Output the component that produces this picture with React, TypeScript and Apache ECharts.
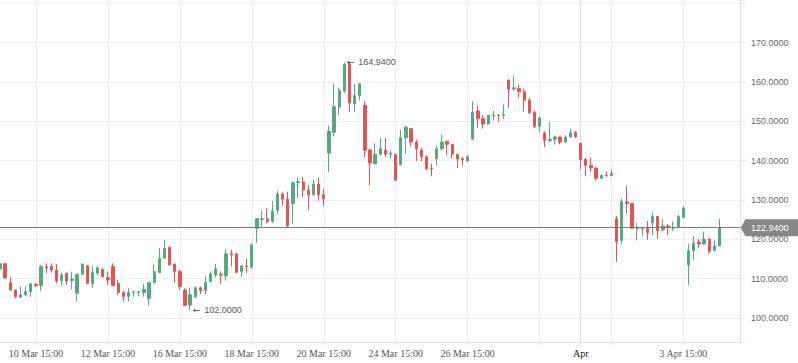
import React, { useEffect, useRef } from 'react';
import * as echarts from 'echarts';

// ---- time slots (hourly bars, 7 per session) ----
const firstBar = '9 Mar 15:00';
const sessionDays = [
  '10 Mar', '11 Mar', '12 Mar', '13 Mar', '16 Mar', '17 Mar', '18 Mar', '19 Mar', '20 Mar',
  '23 Mar', '24 Mar', '25 Mar', '26 Mar', '27 Mar', '30 Mar', '31 Mar',
  '1 Apr', '2 Apr', '3 Apr', '6 Apr',
];
const sessionHours = ['09:00', '10:00', '11:00', '12:00', '13:00', '14:00', '15:00'];
const futureSlots = ['7 Apr 09:00', '7 Apr 10:00', '7 Apr 11:00', '7 Apr 12:00'];

// ---- tick labels / grid lines ----
const labelSlots = [
  '10 Mar 15:00', '12 Mar 15:00', '16 Mar 15:00', '18 Mar 15:00', '20 Mar 15:00',
  '24 Mar 15:00', '26 Mar 15:00', '1 Apr 09:00', '3 Apr 15:00',
];
const monthStarts: Record<string, string> = { '1 Apr 09:00': 'Apr' };
const extraGridSlots = ['30 Mar 15:00', '1 Apr 15:00'];

// ---- OHLC values ----
const opens = [
  112.5, 113.8, 109.0, 107.1, 105.3, 105.9, 106.7, 108.6, 108.2, 113.0,
  113.1, 112.2, 109.5, 111.4, 109.5, 106.3, 111.1, 113.3, 108.8, 111.4,
  112.4, 110.3, 113.1, 108.8, 106.5, 105.5, 106.6, 106.5, 106.5, 105.0,
  109.0, 111.5, 115.2, 118.0, 113.7, 111.8, 107.1, 103.3, 105.4, 107.7,
  107.0, 109.3, 111.0, 111.1, 110.7, 116.3, 116.3, 111.8, 113.2, 112.9,
  122.8, 125.0, 125.2, 124.5, 127.4, 131.5, 130.2, 129.1, 134.4, 134.6,
  132.5, 131.3, 134.0, 131.3, 141.9, 147.2, 153.6, 157.6, 164.4, 154.4,
  156.5, 154.0, 142.7, 139.2, 141.6, 142.7, 141.6, 141.6, 139.0, 145.8,
  148.1, 144.7, 142.6, 141.0, 138.1, 140.5, 143.0, 144.9, 144.1, 141.6,
  140.5, 139.9, 145.5, 152.6, 150.6, 149.3, 151.4, 151.6, 151.5, 160.4,
  158.2, 158.3, 157.5, 155.3, 152.3, 148.7, 147.0, 145.1, 145.4, 146.0,
  144.7, 146.0, 147.2, 144.4, 140.3, 138.8, 138.1, 135.5, 136.2, 136.2,
  125.2, 119.7, 129.5, 129.1, 122.6, 122.6, 122.8, 124.2, 125.8, 122.4,
  123.4, 122.8, 123.1, 125.6, 113.5, 117.1, 119.3, 118.8, 120.1, 117.1,
  118.3,
];
const closes = [
  113.8, 110.2, 107.1, 105.4, 105.9, 106.7, 108.7, 108.2, 113.1, 112.7,
  112.2, 109.4, 111.0, 109.4, 109.9, 111.1, 113.7, 108.8, 111.5, 112.8,
  110.5, 109.7, 108.2, 106.5, 105.5, 106.5, 106.7, 106.7, 107.3, 109.0,
  111.8, 115.2, 117.7, 113.5, 111.8, 108.0, 103.2, 105.9, 107.7, 107.0,
  109.0, 111.2, 112.5, 110.9, 116.3, 116.0, 111.6, 113.2, 113.0, 118.6,
  125.2, 125.2, 124.5, 127.2, 131.5, 130.2, 123.4, 134.4, 134.6, 132.5,
  131.3, 134.0, 131.3, 130.3, 147.5, 153.7, 157.8, 164.4, 154.6, 156.5,
  159.5, 142.6, 139.4, 141.6, 143.0, 141.6, 141.9, 135.0, 145.8, 148.5,
  144.7, 143.0, 141.0, 137.9, 137.9, 143.0, 144.7, 144.1, 141.6, 140.4,
  140.2, 141.0, 152.3, 150.6, 149.3, 151.5, 151.6, 151.4, 151.7, 158.1,
  158.5, 157.5, 155.3, 152.1, 148.7, 150.8, 145.1, 145.4, 146.0, 144.7,
  146.0, 147.0, 146.0, 140.3, 138.8, 138.1, 135.5, 136.2, 136.1, 136.7,
  119.4, 129.6, 129.1, 122.8, 122.8, 122.7, 121.7, 125.8, 122.2, 123.4,
  123.1, 123.1, 125.8, 127.9, 117.1, 119.0, 118.8, 120.0, 116.9, 118.3,
  122.94,
];
const lows = [
  112.0, 110.0, 106.9, 105.0, 105.2, 105.7, 105.4, 108.0, 106.9, 111.4,
  111.5, 108.8, 108.2, 108.4, 107.3, 104.2, 110.9, 108.6, 107.6, 110.9,
  110.3, 108.4, 108.1, 105.9, 104.2, 104.2, 105.4, 105.5, 105.4, 103.1,
  108.8, 111.4, 115.1, 113.4, 109.0, 107.1, 103.1, 102.0, 105.1, 106.1,
  106.1, 109.1, 110.3, 108.7, 109.5, 113.1, 111.5, 110.5, 111.5, 112.6,
  119.2, 123.2, 124.1, 124.2, 126.4, 128.5, 123.0, 123.9, 130.5, 130.8,
  127.4, 131.2, 129.8, 128.5, 137.1, 146.1, 151.5, 157.1, 152.3, 152.3,
  155.3, 140.9, 133.7, 139.0, 141.3, 140.9, 140.5, 134.9, 138.7, 141.7,
  143.6, 139.9, 139.9, 137.6, 136.0, 138.8, 142.6, 141.3, 140.5, 138.1,
  138.8, 139.7, 145.3, 148.3, 148.1, 149.1, 150.2, 149.8, 150.6, 153.4,
  157.6, 155.9, 152.5, 151.9, 148.2, 147.2, 143.4, 144.7, 144.1, 144.1,
  144.4, 145.8, 145.8, 137.8, 136.0, 137.1, 134.9, 135.2, 136.0, 136.0,
  114.3, 118.8, 126.4, 122.6, 119.7, 120.9, 119.8, 121.1, 120.1, 122.1,
  121.1, 122.1, 122.8, 125.3, 108.4, 114.8, 117.7, 118.5, 116.3, 117.1,
  118.3,
];
const highs = [
  114.2, 113.9, 110.4, 107.2, 108.0, 108.0, 108.8, 108.8, 113.5, 113.9,
  113.9, 113.7, 111.5, 111.5, 111.8, 111.2, 113.9, 113.5, 113.1, 113.3,
  112.6, 111.8, 113.9, 109.7, 106.9, 107.6, 106.9, 106.9, 108.7, 109.2,
  113.5, 117.7, 119.8, 118.1, 113.9, 112.4, 107.6, 107.8, 108.0, 108.0,
  110.5, 111.8, 113.7, 111.8, 117.5, 117.3, 116.4, 113.5, 115.0, 118.8,
  125.3, 127.4, 127.9, 129.7, 132.3, 131.9, 132.1, 134.6, 135.7, 135.9,
  133.8, 135.2, 135.7, 132.8, 148.9, 159.5, 158.6, 164.94, 164.8, 159.5,
  159.7, 155.0, 143.0, 144.4, 145.8, 145.8, 142.6, 141.7, 147.8, 148.9,
  148.3, 145.3, 143.3, 141.3, 139.2, 143.8, 146.6, 145.0, 144.3, 141.7,
  140.9, 141.3, 155.0, 154.0, 151.6, 151.6, 152.6, 151.7, 154.2, 160.7,
  161.6, 159.3, 158.3, 155.9, 152.7, 151.2, 147.4, 149.8, 146.4, 146.1,
  146.4, 148.1, 147.5, 144.5, 140.7, 140.7, 138.3, 136.5, 137.2, 137.7,
  125.9, 130.3, 133.6, 129.3, 124.2, 123.2, 124.7, 126.8, 125.9, 125.2,
  123.9, 124.5, 126.2, 128.5, 118.8, 120.9, 120.0, 122.0, 120.3, 119.7,
  125.2,
];

const UP = '#56a880';
const DOWN = '#e05656';

export default function App() {
  const ref = useRef<HTMLDivElement>(null);

  useEffect(() => {
    if (!ref.current) return;
    const chart = echarts.init(ref.current, undefined, { renderer: 'svg' });

    const categories = [
      firstBar,
      ...sessionDays.flatMap((d) => sessionHours.map((h) => `${d} ${h}`)),
      ...futureSlots,
    ];
    const candles = opens.map((o, i) => [o, closes[i], lows[i], highs[i]]);
    const maxIdx = highs.indexOf(Math.max(...highs));
    const minIdx = lows.indexOf(Math.min(...lows));
    const lastClose = closes[closes.length - 1];
    const gridSlots = new Set([...labelSlots.filter((s) => !monthStarts[s]), ...extraGridSlots]);
    const labelSet = new Set(labelSlots);

    const labelFont = 'Liberation Sans, Arial, sans-serif';

    chart.setOption({
      animation: false,
      backgroundColor: '#ffffff',
      grid: { left: 0, right: 58, top: 0, bottom: 21, containLabel: false, outerBoundsMode: 'none' },
      xAxis: [
        {
          type: 'category',
          data: categories,
          boundaryGap: false,
          axisLine: { show: true, lineStyle: { color: '#dcdfe2', width: 1 } },
          axisTick: {
            show: true,
            length: 3,
            interval: (i: number, v: string) => gridSlots.has(v) || !!monthStarts[v],
            lineStyle: { color: '#e3e6e9' },
          },
          axisLabel: {
            show: true,
            interval: (i: number, v: string) => labelSet.has(v),
            formatter: (v: string) => (monthStarts[v] ? `{m|${monthStarts[v]}}` : v),
            color: '#555555',
            fontFamily: 'Liberation Serif, Times New Roman, serif',
            fontSize: 10,
            margin: 6,
            rich: {
              m: { color: '#111111', fontFamily: 'Liberation Serif, Times New Roman, serif', fontSize: 10 },
            },
          },
          splitLine: {
            show: true,
            interval: (i: number, v: string) => gridSlots.has(v),
            lineStyle: { color: '#eceef1', width: 1 },
          },
        },
        {
          type: 'category',
          data: categories,
          boundaryGap: false,
          position: 'bottom',
          axisLine: { show: false },
          axisTick: { show: false },
          axisLabel: { show: false },
          splitLine: {
            show: true,
            interval: (i: number, v: string) => !!monthStarts[v],
            lineStyle: { color: '#d9dcdf', width: 1 },
          },
        },
      ],
      yAxis: {
        type: 'value',
        position: 'right',
        min: 93.91,
        max: 180.8,
        splitNumber: 9,
        minInterval: 10,
        maxInterval: 10,
        scale: true,
        axisLine: { show: true, lineStyle: { color: '#dcdfe2', width: 1 } },
        axisTick: { show: true, length: 5, lineStyle: { color: '#e3e6e9' } },
        axisLabel: {
          margin: 11,
          color: '#666666',
          fontFamily: labelFont,
          fontSize: 9,
          formatter: (v: number) => {
            const r = Math.round(v / 10) * 10;
            return Math.abs(v - r) < 1e-6 && r >= 100 && r <= 170 ? v.toFixed(4) : '';
          },
        },
        splitLine: { show: true, showMaxLine: false, lineStyle: { color: '#eceef1', width: 1 } },
      },
      series: [
        {
          type: 'candlestick',
          xAxisIndex: 0,
          yAxisIndex: 0,
          data: candles,
          barWidth: 2.8,
          itemStyle: {
            color: UP,
            color0: DOWN,
            borderColor: UP,
            borderColor0: DOWN,
            borderWidth: 1,
          },
          markPoint: {
            silent: true,
            symbol: 'circle',
            symbolSize: 1,
            itemStyle: { color: 'rgba(0,0,0,0)' },
            label: {
              show: true,
              position: 'right',
              distance: 2,
              formatter: (p: any) => `{a|←}{b|${Number(p.value).toFixed(4)}}`,
              rich: {
                a: { color: '#444444', fontSize: 9, fontFamily: 'DejaVu Sans, sans-serif', padding: [0, 4, 0, 0] },
                b: { color: '#555555', fontSize: 9, fontFamily: labelFont },
              },
            },
            data: [
              { coord: [categories[maxIdx], highs[maxIdx]], value: highs[maxIdx] },
              { coord: [categories[minIdx], lows[minIdx]], value: lows[minIdx] },
            ],
          },
          markLine: {
            silent: true,
            symbol: ['none', 'none'],
            lineStyle: { color: '#7c7c7c', width: 1, type: 'solid' },
            label: {
              show: true,
              position: 'end',
              distance: 5,
              formatter: () => lastClose.toFixed(4),
              color: '#ffffff',
              fontFamily: labelFont,
              fontSize: 9,
              lineHeight: 11,
              backgroundColor: '#868686',
              padding: [3, 12, 3, 6],
            },
            data: [{ yAxis: lastClose }],
          },
        },
      ],
    });

    const y = chart.convertToPixel({ yAxisIndex: 0 }, lastClose) as number;
    const x = chart.convertToPixel({ xAxisIndex: 0 }, categories[categories.length - 1]) as number;
    chart.setOption({
      graphic: [
        {
          type: 'polygon',
          silent: true,
          z: 100,
          shape: { points: [[x + 0.7, y], [x + 5.5, y - 8.5], [x + 5.5, y + 8.5]] },
          style: { fill: '#868686' },
        },
      ],
    });

    return () => chart.dispose();
  }, []);

  return (
    <div
      ref={ref}
      style={{ position: 'fixed', left: 0, top: 0, width: 798, height: 363, background: '#ffffff' }}
    />
  );
}
